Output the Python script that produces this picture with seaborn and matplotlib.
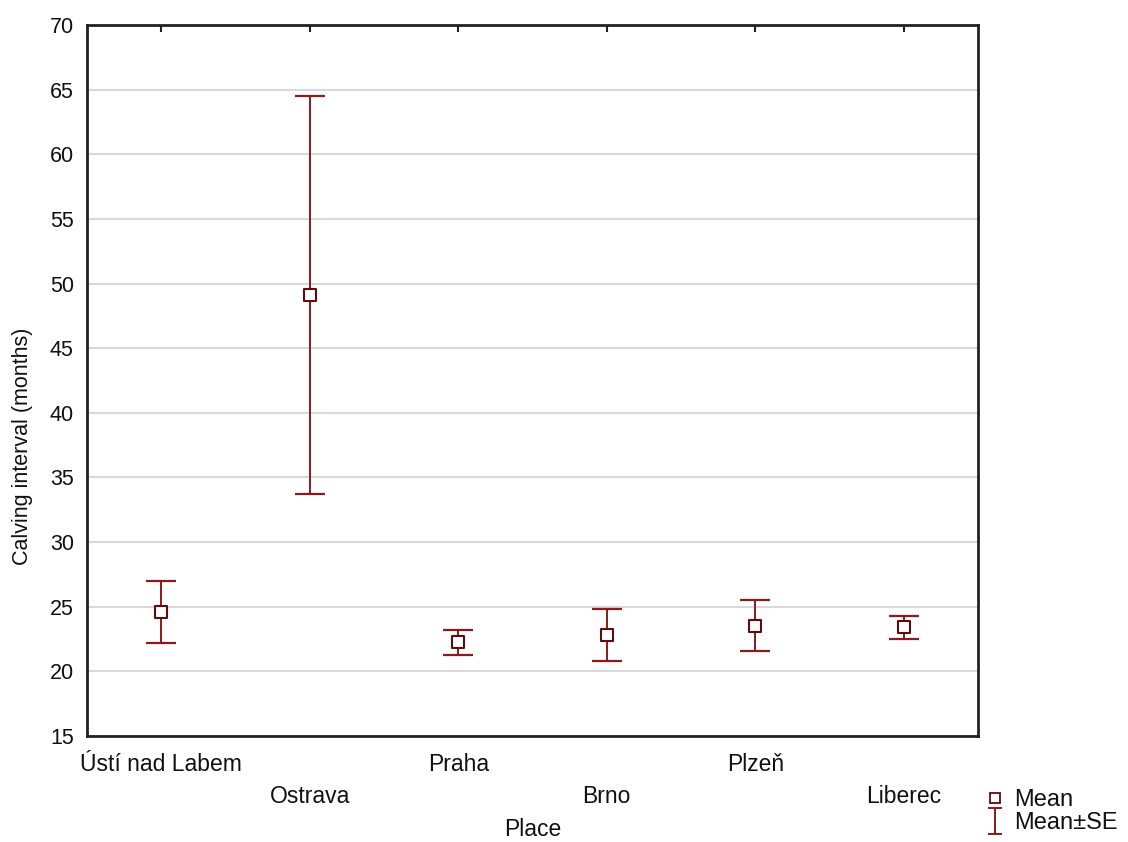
import seaborn as sns
import pandas as pd
import matplotlib.pyplot as plt
from matplotlib.lines import Line2D
from matplotlib.path import Path

# data
places = ["Ústí nad Labem", "Ostrava", "Praha", "Brno", "Plzeň", "Liberec"]
means = [24.6, 49.1, 22.3, 22.8, 23.5, 23.4]
upper = [27.0, 64.5, 23.2, 24.8, 25.5, 24.3]
lower = [22.2, 33.7, 21.3, 20.8, 21.6, 22.5]

df = pd.DataFrame({"Place": places, "Mean": means, "Upper": upper, "Lower": lower})

sns.set_style("white")
plt.rcParams["font.family"] = ["Liberation Sans", "DejaVu Sans"]

red = "#8b1a1a"

fig = plt.figure(figsize=(11.28, 8.42), dpi=100)
ax = fig.add_axes([0.0771, 0.1259, 0.7899, 0.8444])

ax.grid(axis="y", color="#d9d9d9", linewidth=1.5)
ax.set_axisbelow(True)

x = list(range(len(df)))
ax.errorbar(x, df["Mean"], yerr=[df["Mean"] - df["Lower"], df["Upper"] - df["Mean"]],
            fmt="none", ecolor=red, elinewidth=1.4, capsize=11, capthick=1.6, zorder=2)
sns.scatterplot(data=df, x="Place", y="Mean", marker="s", s=75, facecolor="white",
                edgecolor="#5e0c0c", linewidth=1.5, ax=ax, zorder=3)

ax.set_xlim(-0.5, 5.5)
ax.set_ylim(15, 70)
ax.set_yticks(range(15, 71, 5))
ax.set_xticks(x)
ax.set_xticklabels(places)
ax.tick_params(axis="x", direction="in", length=5, width=1.5, top=True, labelsize=16.5,
               color="#222222", labelcolor="#111111")
ax.tick_params(axis="y", direction="in", length=0, labelsize=15.5, pad=9.5, labelcolor="#111111")
# staggered category labels
for i, t in enumerate(ax.xaxis.get_major_ticks()):
    t.set_pad(12 if i % 2 == 0 else 35)

for s in ax.spines.values():
    s.set_color("#222222")
    s.set_linewidth(2)

ax.set_xlabel("Place", fontsize=16.5, color="#111111")
ax.xaxis.set_label_coords(0.5, -0.116)
ax.set_ylabel("Calving interval (months)", fontsize=15.5, color="#111111")
ax.yaxis.set_label_coords(-0.061, 0.408)

# legend with an I-shaped handle for the error bar
ibar = Path([(-0.5, 1), (0.5, 1), (0, 1), (0, -1), (-0.5, -1), (0.5, -1)],
            [Path.MOVETO, Path.LINETO, Path.MOVETO, Path.LINETO, Path.MOVETO, Path.LINETO])
handles = [
    Line2D([], [], marker="s", linestyle="none", markersize=7, markerfacecolor="white",
           markeredgecolor="#5e0c0c", markeredgewidth=1.3),
    Line2D([], [], marker=ibar, linestyle="none", markersize=19, color=red, markeredgewidth=1.4),
]
fig.legend(handles, ["Mean", "Mean±SE"], loc="upper left", bbox_to_anchor=(0.8715, 0.063),
           frameon=False, fontsize=17, handlelength=1.0, handletextpad=0.3, labelspacing=0.05,
           borderaxespad=0, borderpad=0, labelcolor="#111111")

fig.savefig("out.png", dpi=100, facecolor="white")
